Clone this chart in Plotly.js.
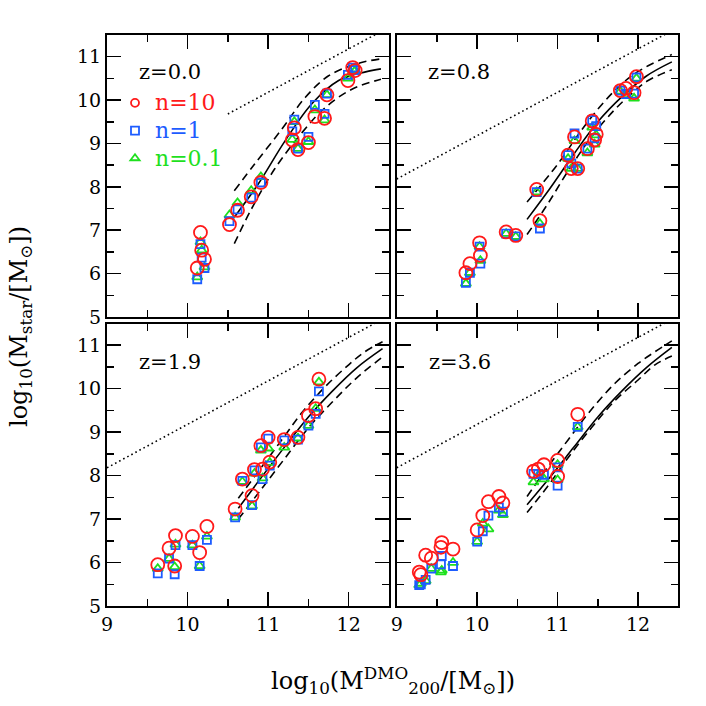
<!DOCTYPE html>
<html><head><meta charset="utf-8">
<script src="https://cdn.plot.ly/plotly-3.0.1.min.js"></script>
<style>html,body{margin:0;padding:0;background:#fff}#chart{width:706px;height:706px}</style>
</head><body><div id="chart"></div>
<script>
// ---------- tick values / labels ----------
const xTickVals = [9, 10, 11, 12];
const xTickText = ['9', '10', '11', '12'];
const yTickVals = [5, 6, 7, 8, 9, 10, 11];
const yTickText = ['5', '6', '7', '8', '9', '10', '11'];
const panelLabels = ['z=0.0', 'z=0.8', 'z=1.9', 'z=3.6'];
const seriesNames = ['n=10', 'n=1', 'n=0.1'];

// ---------- z=0.0 ----------
const tlX     = [10.16, 10.175, 10.21, 10.12, 10.52, 10.62, 10.79, 10.91, 11.325, 11.30, 11.37, 11.50, 11.58, 11.70, 11.73, 11.99, 12.05, 12.08];
const tlRed   = [6.95, 6.54, 6.33, 6.13, 7.13, 7.46, 7.77, 8.10, 9.36, 9.08, 8.86, 9.02, 9.62, 9.58, 10.12, 10.45, 10.75, 10.68];
const tlBlue  = [6.68, 6.37, 6.13, 5.87, 7.21, 7.48, 7.75, 8.10, 9.55, 9.28, 8.88, 9.15, 9.89, 9.68, 10.15, 10.58, 10.75, 10.69];
const tlGreen = [6.73, 6.54, 6.15, 5.92, 7.35, 7.63, 7.91, 8.23, 9.50, 9.09, 8.88, 9.04, 9.77, 9.54, 10.12, 10.50, 10.71, 10.68];
const tlSolidX = [10.58, 10.875, 11.21, 11.54, 11.875, 12.21, 12.40];
const tlSolidY = [7.30, 8.06, 9.06, 9.91, 10.45, 10.65, 10.72];
const tlUpX = [10.58, 10.83, 11.17, 11.46, 11.75, 12.125, 12.40];
const tlUpY = [7.91, 8.52, 9.33, 10.06, 10.56, 10.85, 10.95];
const tlLoX = [10.58, 10.79, 11.08, 11.42, 11.71, 12.04, 12.40];
const tlLoY = [6.69, 7.48, 8.41, 9.25, 9.83, 10.25, 10.48];
const tlDotX = [10.5, 12.5];
const tlDotY = [9.68, 11.68];

// ---------- z=0.8 ----------
const trX     = [9.86, 9.91, 10.03, 10.04, 10.36, 10.48, 10.74, 10.78, 11.13, 11.17, 11.25, 11.21, 11.37, 11.43, 11.46, 11.48, 11.78, 11.85, 11.95, 11.98];
const trRed   = [6.02, 6.23, 6.71, 6.42, 6.96, 6.88, 7.94, 7.22, 8.73, 8.42, 8.42, 9.15, 8.88, 9.52, 9.08, 9.21, 10.22, 10.27, 10.17, 10.54];
const trBlue  = [5.79, 6.02, 6.62, 6.23, 6.92, 6.86, 7.88, 7.04, 8.73, 8.54, 8.42, 9.23, 8.88, 9.54, 9.12, 9.40, 10.22, 10.14, 10.15, 10.52];
const trGreen = [5.77, 6.02, 6.62, 6.30, 6.92, 6.85, 7.88, 7.15, 8.65, 8.42, 8.42, 9.06, 8.78, 9.37, 8.98, 9.19, 10.20, 10.12, 10.04, 10.50];
const trSolidX = [10.62, 10.9, 11.2, 11.5, 11.8, 12.1, 12.42];
const trSolidY = [7.25, 7.95, 8.75, 9.50, 10.08, 10.55, 10.88];
const trUpX = [10.62, 11.0, 11.29, 11.5, 11.71, 11.92, 12.125, 12.42];
const trUpY = [7.65, 8.52, 9.29, 9.79, 10.22, 10.56, 10.79, 11.05];
const trLoX = [10.62, 10.875, 11.125, 11.42, 11.71, 11.92, 12.125, 12.42];
const trLoY = [6.90, 7.60, 8.35, 9.15, 9.78, 10.15, 10.45, 10.70];
const trDotX = [9, 12.5];
const trDotY = [8.18, 11.68];

// ---------- z=1.9 ----------
const blX     = [9.63, 9.77, 9.85, 9.84, 10.06, 10.15, 10.24, 10.59, 10.68, 10.80, 10.83, 10.91, 10.93, 11.00, 11.02, 11.20, 11.37, 11.50, 11.59, 11.63];
const blRed   = [5.95, 6.33, 6.62, 5.92, 6.60, 6.23, 6.83, 7.23, 7.92, 7.54, 8.14, 8.69, 8.15, 8.88, 8.31, 8.83, 8.88, 9.38, 9.54, 10.22];
const blBlue  = [5.75, 6.09, 6.40, 5.73, 6.40, 5.92, 6.52, 7.04, 7.88, 7.32, 8.12, 8.65, 7.92, 8.85, 8.23, 8.81, 8.83, 9.15, 9.42, 9.94];
const blGreen = [5.86, 6.09, 6.42, 5.90, 6.40, 5.92, 6.60, 7.04, 7.86, 7.30, 8.05, 8.58, 7.94, 8.63, 8.30, 8.65, 8.86, 9.15, 9.54, 10.15];
const blSolidX = [10.63, 10.9, 11.2, 11.5, 11.8, 12.1, 12.42];
const blSolidY = [7.25, 7.92, 8.65, 9.35, 9.95, 10.48, 10.92];
const blUpX = [10.63, 10.9, 11.2, 11.42, 11.71, 12.0, 12.2, 12.42];
const blUpY = [7.48, 8.15, 8.90, 9.45, 10.05, 10.55, 10.85, 11.08];
const blLoX = [10.63, 10.9, 11.2, 11.5, 11.8, 12.1, 12.42];
const blLoY = [7.00, 7.65, 8.38, 9.10, 9.70, 10.25, 10.73];
const blDotX = [9, 12.5];
const blDotY = [8.18, 11.68];

// ---------- z=3.6 ----------
const brX     = [9.28, 9.30, 9.36, 9.43, 9.55, 9.56, 9.70, 10.00, 10.07, 10.14, 10.27, 10.32, 10.70, 10.76, 10.83, 11.00, 11.00, 11.25];
const brRed   = [5.78, 5.72, 6.17, 6.10, 6.35, 6.46, 6.31, 6.75, 7.08, 7.40, 7.52, 7.37, 8.10, 8.15, 8.25, 8.35, 7.98, 9.41];
const brBlue  = [5.48, 5.50, 5.60, 5.86, 5.96, 6.15, 5.92, 6.48, 6.72, 7.08, 7.27, 7.17, 8.04, 8.04, 8.02, 8.19, 7.77, 9.12];
const brGreen = [5.48, 5.52, 5.58, 5.86, 5.78, 5.82, 6.00, 6.48, 6.90, 6.77, 7.20, 7.10, 7.85, 8.00, 7.92, 8.25, 7.90, 9.12];
const brSolidX = [10.62, 10.9, 11.2, 11.5, 11.8, 12.1, 12.42];
const brSolidY = [7.33, 7.95, 8.65, 9.35, 9.95, 10.48, 10.95];
const brUpX = [10.62, 10.875, 11.125, 11.42, 11.71, 12.0, 12.21, 12.42];
const brUpY = [7.52, 8.19, 8.81, 9.52, 10.12, 10.58, 10.85, 11.10];
const brLoX = [10.62, 10.875, 11.125, 11.42, 11.71, 12.0, 12.21, 12.42];
const brLoY = [7.15, 7.75, 8.40, 9.10, 9.72, 10.20, 10.55, 10.75];
const brDotX = [9, 12.5];
const brDotY = [8.18, 11.68];

// ---------- styling ----------
const RED = '#ff1a1a', BLUE = '#1d5cff', GREEN = '#1ee01e';
const W = 706, H = 706;
const colL = [107 / W, 389 / W], colR = [396.7 / W, 678.3 / W];
const rowT = [(H - 317) / H, (H - 35) / H], rowB = [(H - 606) / H, (H - 323.5) / H];

const panels = [
  {xa: 'x',  ya: 'y',  X: tlX, R: tlRed, B: tlBlue, G: tlGreen, sX: tlSolidX, sY: tlSolidY, uX: tlUpX, uY: tlUpY, lX: tlLoX, lY: tlLoY, dX: tlDotX, dY: tlDotY},
  {xa: 'x2', ya: 'y2', X: trX, R: trRed, B: trBlue, G: trGreen, sX: trSolidX, sY: trSolidY, uX: trUpX, uY: trUpY, lX: trLoX, lY: trLoY, dX: trDotX, dY: trDotY},
  {xa: 'x3', ya: 'y3', X: blX, R: blRed, B: blBlue, G: blGreen, sX: blSolidX, sY: blSolidY, uX: blUpX, uY: blUpY, lX: blLoX, lY: blLoY, dX: blDotX, dY: blDotY},
  {xa: 'x4', ya: 'y4', X: brX, R: brRed, B: brBlue, G: brGreen, sX: brSolidX, sY: brSolidY, uX: brUpX, uY: brUpY, lX: brLoX, lY: brLoY, dX: brDotX, dY: brDotY}
];

const traces = [];
// legend-only entries
const legSym = ['circle-open', 'square-open', 'triangle-up-open'];
const legCol = [RED, BLUE, GREEN];
for (let i = 0; i < 3; i++) {
  traces.push({x: [null], y: [null], xaxis: 'x', yaxis: 'y', type: 'scatter', mode: 'markers',
    name: '<span style="color:' + legCol[i] + ';font-size:22px">' + seriesNames[i] + '</span>',
    marker: {symbol: legSym[i], size: 8, color: legCol[i], line: {width: 1.8, color: legCol[i]}},
    showlegend: true, hoverinfo: 'skip'});
}
const lineBlack = 'black';
panels.forEach(p => {
  const common = {xaxis: p.xa, yaxis: p.ya, type: 'scatter', showlegend: false, hoverinfo: 'skip'};
  traces.push(Object.assign({x: p.dX, y: p.dY, mode: 'lines', line: {color: lineBlack, width: 1.6, dash: '1.6px,3px'}}, common));
  traces.push(Object.assign({x: p.uX, y: p.uY, mode: 'lines', line: {color: lineBlack, width: 1.6, dash: '8px,5px', shape: 'spline'}}, common));
  traces.push(Object.assign({x: p.lX, y: p.lY, mode: 'lines', line: {color: lineBlack, width: 1.6, dash: '8px,5px', shape: 'spline'}}, common));
  traces.push(Object.assign({x: p.sX, y: p.sY, mode: 'lines', line: {color: lineBlack, width: 1.6, shape: 'spline'}}, common));
  traces.push(Object.assign({x: p.X, y: p.G, mode: 'markers', marker: {symbol: 'triangle-up-open', size: 9, color: GREEN, line: {width: 1.8, color: GREEN}}}, common));
  traces.push(Object.assign({x: p.X, y: p.B, mode: 'markers', marker: {symbol: 'square-open', size: 8, color: BLUE, line: {width: 1.8, color: BLUE}}}, common));
  traces.push(Object.assign({x: p.X, y: p.R, mode: 'markers', marker: {symbol: 'circle-open', size: 13, color: RED, line: {width: 1.8, color: RED}}}, common));
});

const tickFont = {family: 'DejaVu Serif', size: 19, color: 'black'};
function xAx(domain, anchor, labels) {
  return {domain: domain, anchor: anchor, range: [9, 12.5], showline: true, linecolor: 'black', linewidth: 2,
    mirror: 'ticks', ticks: 'inside', ticklen: 14, tickwidth: 1.5, tickcolor: 'black',
    tickmode: 'array', tickvals: xTickVals, ticktext: xTickText, showticklabels: labels,
    tickfont: tickFont, showgrid: false, zeroline: false, fixedrange: true,
    minor: {tickmode: 'linear', tick0: 9, dtick: 0.5, ticks: 'inside', ticklen: 7, tickwidth: 1.5, tickcolor: 'black', showgrid: false}};
}
function yAx(domain, anchor, labels) {
  return {domain: domain, anchor: anchor, range: [5, 11.5], showline: true, linecolor: 'black', linewidth: 2,
    mirror: 'ticks', ticks: 'inside', ticklen: 14, tickwidth: 1.5, tickcolor: 'black',
    tickmode: 'array', tickvals: yTickVals, ticktext: yTickText, showticklabels: labels,
    tickfont: tickFont, showgrid: false, zeroline: false, fixedrange: true,
    minor: {tickmode: 'linear', tick0: 5, dtick: 0.5, ticks: 'inside', ticklen: 7, tickwidth: 1.5, tickcolor: 'black', showgrid: false}};
}

const labelFont = {family: 'DejaVu Serif', size: 21, color: 'black'};
const annPos = [[137, 72], [426, 72], [137, 362], [427, 362]];
const annotations = panelLabels.map((t, i) => ({
  text: t, xref: 'paper', yref: 'paper', x: annPos[i][0] / W, y: (H - annPos[i][1]) / H,
  xanchor: 'left', yanchor: 'middle', showarrow: false, font: labelFont}));
annotations.push({text: 'log<sub>10</sub>(M<sup>DMO</sup><sub>200</sub>/[M<sub>⊙</sub>])', xref: 'paper', yref: 'paper',
  x: 393 / W, y: (H - 680) / H, xanchor: 'center', yanchor: 'middle', showarrow: false,
  font: {family: 'DejaVu Serif', size: 24, color: 'black'}});
annotations.push({text: 'log<sub>10</sub>(M<sub>star</sub>/[M<sub>⊙</sub>])', xref: 'paper', yref: 'paper',
  x: 20 / W, y: (H - 327) / H, xanchor: 'center', yanchor: 'middle', showarrow: false, textangle: -90,
  font: {family: 'DejaVu Serif', size: 24, color: 'black'}});

const layout = {
  width: W, height: H, margin: {l: 0, r: 0, t: 0, b: 0}, paper_bgcolor: 'white', plot_bgcolor: 'white',
  showlegend: true,
  legend: {x: 115 / W, y: (H - 84) / H, xanchor: 'left', yanchor: 'top', bgcolor: 'rgba(0,0,0,0)', borderwidth: 0,
    font: {family: 'DejaVu Serif', size: 19, color: 'black'}, tracegroupgap: 0, itemwidth: 30},
  xaxis: xAx(colL, 'y', false), yaxis: yAx(rowT, 'x', true),
  xaxis2: xAx(colR, 'y2', false), yaxis2: yAx(rowT, 'x2', false),
  xaxis3: xAx(colL, 'y3', true), yaxis3: yAx(rowB, 'x3', true),
  xaxis4: xAx(colR, 'y4', true), yaxis4: yAx(rowB, 'x4', false),
  annotations: annotations
};

Plotly.newPlot('chart', traces, layout, {staticPlot: true, displayModeBar: false});
</script></body></html>
